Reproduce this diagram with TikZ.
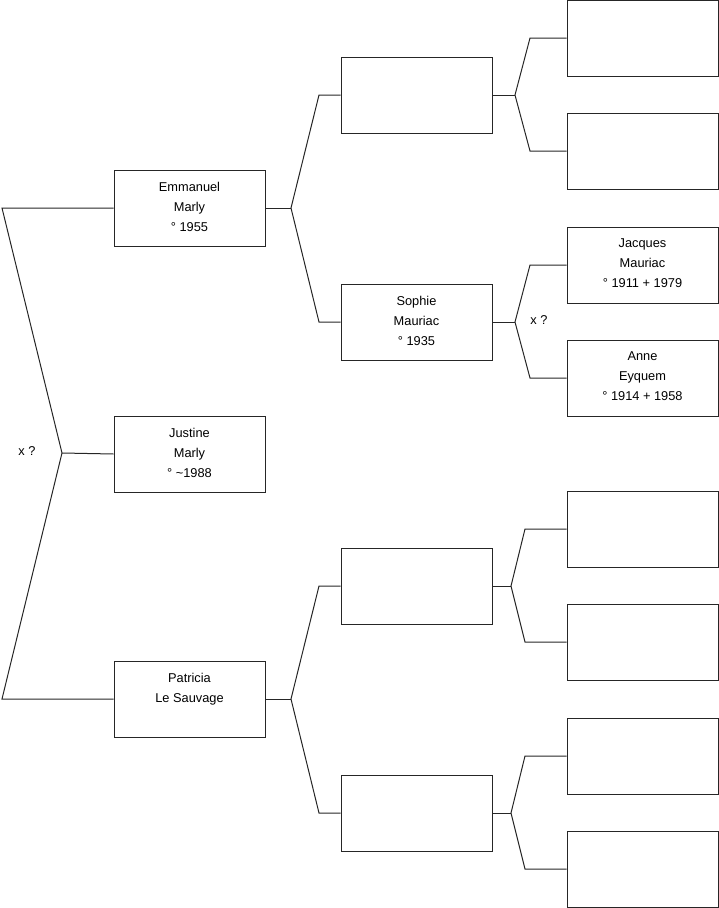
\documentclass[tikz,border=0pt]{standalone}
\usepackage{fontspec}
\setmainfont{Liberation Sans}
\begin{document}
\begin{tikzpicture}[x=1pt,y=-1pt,
  person/.style={draw=black!85,line width=1pt,rectangle,minimum width=151pt,minimum height=76pt,
    inner sep=0pt,align=center,text depth=3pt,font=\fontsize{12.8}{20}\selectfont},
  conn/.style={draw=black!85,line width=1pt},
  lbl/.style={font=\fontsize{12.8}{14}\selectfont,inner sep=0pt}]
\useasboundingbox (0,0) rectangle (719,908);
% level 1
\node[person] (em) at (189.5,208) {Emmanuel\\Marly\\° 1955};
\node[person] (ju) at (189.5,454) {Justine\\Marly\\° \textasciitilde1988};
\node[person] (pa) at (189.5,699) {Patricia\\Le Sauvage\\\strut};
% level 2
\node[person] (b1) at (416.5,95) {};
\node[person] (so) at (416.5,322) {Sophie\\Mauriac\\° 1935};
\node[person] (b3) at (416.5,586) {};
\node[person] (b4) at (416.5,813) {};
% level 3
\node[person] (c1) at (642.5,38) {};
\node[person] (c2) at (642.5,151) {};
\node[person] (ja) at (642.5,265) {Jacques\\Mauriac\\° 1911 + 1979};
\node[person] (an) at (642.5,378) {Anne\\Eyquem\\° 1914 + 1958};
\node[person] (c5) at (642.5,529) {};
\node[person] (c6) at (642.5,642) {};
\node[person] (c7) at (642.5,756) {};
\node[person] (c8) at (642.5,869) {};
% coordinates
\coordinate (lA) at (2,208);
\coordinate (lJ) at (62,453);
\coordinate (lP) at (2,699);
\coordinate (fE) at (291,208);
\coordinate (fE1) at (319,95);
\coordinate (fE2) at (319,322);
\coordinate (fP) at (291,699);
\coordinate (fP1) at (319,586);
\coordinate (fP2) at (319,813);
\coordinate (f1) at (515,95);
\coordinate (f11) at (530,38);
\coordinate (f12) at (530,151);
\coordinate (fS) at (515,322);
\coordinate (fS1) at (530,265);
\coordinate (fS2) at (530,378);
\coordinate (f3) at (511,586);
\coordinate (f31) at (525,529);
\coordinate (f32) at (525,642);
\coordinate (f4) at (511,813);
\coordinate (f41) at (525,756);
\coordinate (f42) at (525,869);
% connectors
\draw[conn] (em.west) -- (lA) -- (lJ) -- (lP) -- (pa.west);
\draw[conn] (lJ) -- (ju.west);
\draw[conn] (b1.west) -- (fE1) -- (fE) -- (fE2) -- (so.west);
\draw[conn] (em.east) -- (fE);
\draw[conn] (b3.west) -- (fP1) -- (fP) -- (fP2) -- (b4.west);
\draw[conn] (pa.east) -- (fP);
\draw[conn] (c1.west) -- (f11) -- (f1) -- (f12) -- (c2.west);
\draw[conn] (b1.east) -- (f1);
\draw[conn] (ja.west) -- (fS1) -- (fS) -- (fS2) -- (an.west);
\draw[conn] (so.east) -- (fS);
\draw[conn] (c5.west) -- (f31) -- (f3) -- (f32) -- (c6.west);
\draw[conn] (b3.east) -- (f3);
\draw[conn] (c7.west) -- (f41) -- (f4) -- (f42) -- (c8.west);
\draw[conn] (b4.east) -- (f4);
% labels
\node[lbl] (x1) at (27,451) {x ?};
\node[lbl] (x2) at (539,320) {x ?};
\end{tikzpicture}
\end{document}
